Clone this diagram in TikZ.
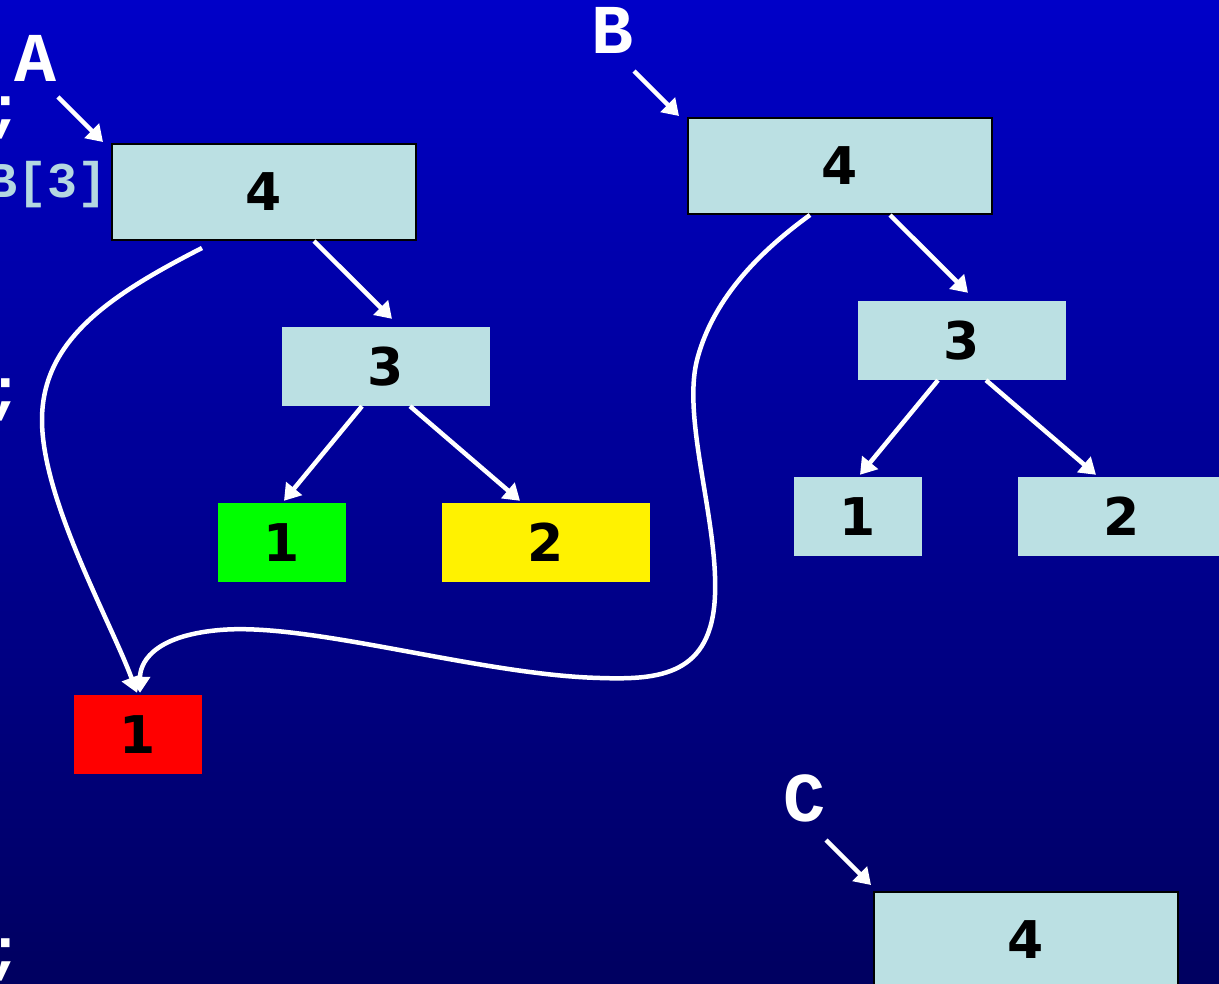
\documentclass[tikz,border=0pt]{standalone}
\usepackage{fontspec}
\usetikzlibrary{arrows.meta}
\newfontfamily\monof{Liberation Mono}
\newfontfamily\numf{DejaVu Sans}
\definecolor{boxblue}{RGB}{187,224,227}
\definecolor{bgtop}{RGB}{0,0,200}
\definecolor{bgbot}{RGB}{0,0,96}
\definecolor{codeblue}{RGB}{180,215,225}
\tikzset{
  cell/.style={fill=boxblue, minimum width=208pt, minimum height=79pt, inner sep=0pt, font=\numf\bfseries\fontsize{52}{52}\selectfont, text=black},
  small/.style={cell, minimum width=128pt},
  big/.style={cell, draw=black, line width=2pt, minimum width=304pt, minimum height=96pt},
  lab/.style={font=\monof\bfseries\fontsize{70}{70}\selectfont, text=white, inner sep=0pt},
  semi/.style={font=\monof\bfseries\fontsize{60}{60}\selectfont, text=white, anchor=east, inner sep=0pt},
  arr/.style={draw=white, line width=4.5pt, -{Triangle[length=16pt,width=20pt]}},
}
\begin{document}
\begin{tikzpicture}[x=1pt, y=-1pt]
\useasboundingbox (0,0) rectangle (1219,984);
\clip (0,0) rectangle (1219,984);
\shade[top color=bgtop, bottom color=bgbot] (0,0) rectangle (1219,984);

% partial code text on left edge
\node[semi] (s1) at (24,118) {;};
\node[semi] (s2) at (24,400) {;};
\node[semi] (s3) at (24,960) {;};
\node[font=\monof\bfseries\fontsize{50}{50}\selectfont, text=codeblue, anchor=east, inner sep=0pt] (code) at (108,185) {B[3]};

% boxes
\node[big] (A4) at (264,192) {4};
\node[cell] (L3) at (386,366.5) {3};
\node[small, fill=green] (G1) at (282,542.5) {1};
\node[cell, fill=yellow] (Y2) at (546,542.5) {2};
\node[small, fill=red] (R1) at (138,734.5) {1};

\node[big] (B4) at (840,166) {4};
\node[cell] (R3) at (962,340.5) {3};
\node[small] (Q1) at (858,516.5) {1};
\node[cell] (Q2) at (1122,516.5) {2};

\node[big] (C4) at (1026,940) {4};

% labels
\node[lab] (LA) at (36,58) {A};
\node[lab] (LB) at (612,30) {B};
\node[lab] (LC) at (804,798) {C};

\coordinate (ta) at (58,97);
\coordinate (tb) at (634,71);
\coordinate (tc) at (826,840);
\draw[arr] (ta) -- ([shift={(-8,-1)}]A4.north west);
\draw[arr] (tb) -- ([shift={(-8,-1)}]B4.north west);
\draw[arr] (tc) -- ([shift={(-2,-6)}]C4.north west);

% tree edges
\draw[arr] ([xshift=50pt]A4.south) -- ([shift={(6,-8)}]L3.north);
\draw[arr] ([xshift=-24pt]L3.south) -- ([shift={(2,-2)}]G1.north);
\draw[arr] ([xshift=24pt]L3.south) -- ([shift={(-26,-2)}]Y2.north);
\draw[arr] ([xshift=50pt]B4.south) -- ([shift={(6,-8)}]R3.north);
\draw[arr] ([xshift=-24pt]R3.south) -- ([shift={(2,-2)}]Q1.north);
\draw[arr] ([xshift=24pt]R3.south) -- ([shift={(-26,-2)}]Q2.north);

% shared node curves
\draw[arr] ([shift={(-62,7)}]A4.south) .. controls (110,295) and (42,340) .. (42,420)
  .. controls (42,500) and (110,620) .. ([shift={(-1,-2)}]R1.north);
\draw[arr] ([xshift=-30pt]B4.south) .. controls (745,262) and (710,310) .. (697,360)
  .. controls (682,420) and (718,520) .. (715,595)
  .. controls (712,675) and (660,680) .. (600,678)
  .. controls (480,675) and (310,622) .. (220,630)
  .. controls (150,636) and (140,665) .. ([shift={(2,-2)}]R1.north);
\end{tikzpicture}
\end{document}
